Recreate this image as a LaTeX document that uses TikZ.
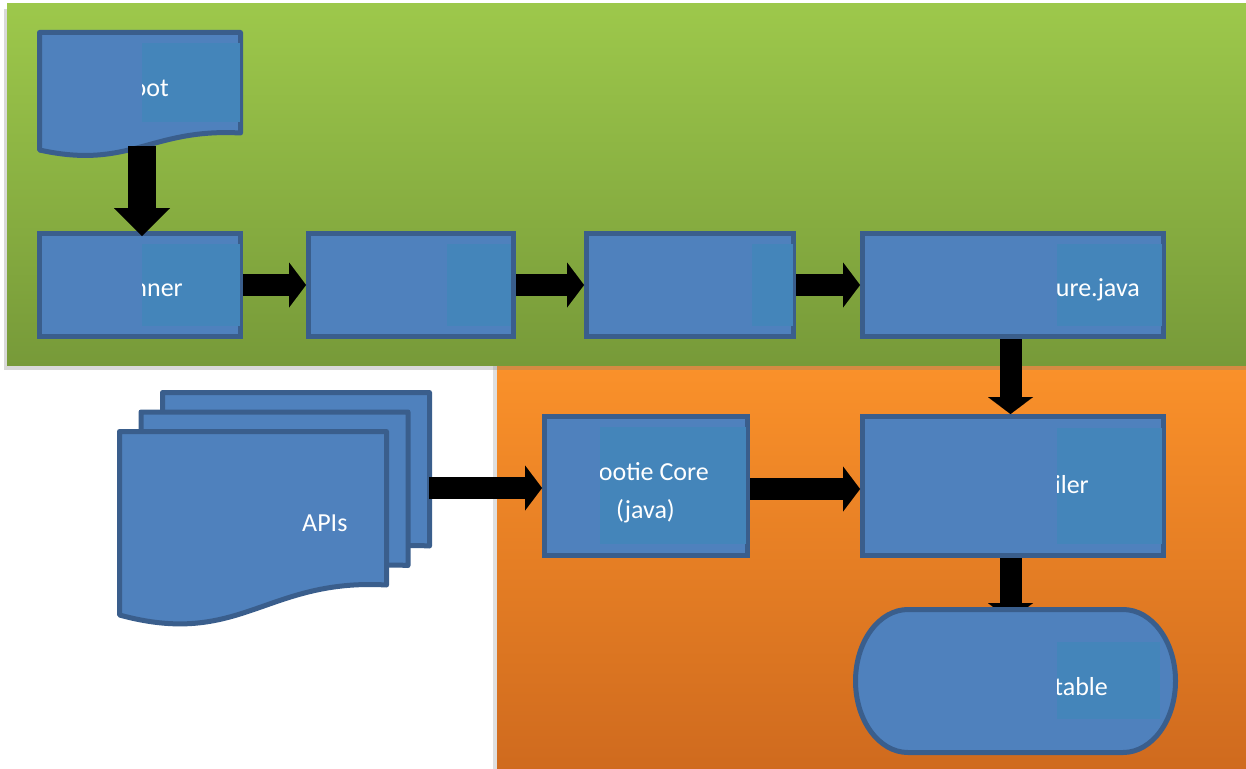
\documentclass[tikz,border=0pt]{standalone}
\usepackage{fontspec}
\setmainfont{Carlito}
\usetikzlibrary{arrows.meta,calc,shadows}
\definecolor{GreenTop}{HTML}{9DC84B}
\definecolor{GreenBot}{HTML}{779A39}
\definecolor{OrangeTop}{HTML}{FA912A}
\definecolor{OrangeBot}{HTML}{CF6A1E}
\definecolor{BoxFill}{HTML}{4F81BD}
\definecolor{BoxEdge}{HTML}{3A5E8C}
\definecolor{BoxInner}{HTML}{4485BA}
\tikzset{
  box/.style={draw=BoxEdge, fill=BoxFill, line width=5pt, inner sep=0pt},
  boxline/.style={draw=BoxEdge, fill=BoxFill, line width=5pt, line join=round},
  lbl/.style={text=white, font=\fontsize{26}{38}\selectfont, inner sep=0pt},
  blk/.style={line width=22pt, -{Triangle[length=17pt,width=45pt,line width=0.01pt]}},
  blkbig/.style={line width=28pt, -{Triangle[length=28pt,width=56pt,line width=0.01pt]}}
}

\begin{document}
\begin{tikzpicture}[x=1pt,y=-1pt]
  \useasboundingbox (0,0) rectangle (1246,768);
  % panels
  \fill[top color=OrangeTop, bottom color=OrangeBot,
        drop shadow={shadow xshift=-4pt, shadow yshift=0pt, opacity=0.25}]
    (497,366) rectangle (1250,772);
  \fill[top color=GreenTop, bottom color=GreenBot,
        drop shadow={shadow xshift=-3pt, shadow yshift=-5pt, opacity=0.3}]
    (7,4) rectangle (1250,365);

  % document shapes
  \draw[boxline] (39.5,32.5) -- (240.5,32.5) -- (240.5,133)
    .. controls (150,128) and (130,170) .. (39.5,150) -- cycle;
  \coordinate (boot-out) at (142,146);
  \foreach \s in {2,1,0}
    \draw[boxline, shift={(21.5*\s,-19.5*\s)}] (119.5,431.5) -- (386.5,431.5) -- (386.5,585)
      .. controls (266,578) and (240,648) .. (119.5,615) -- cycle;
  \coordinate (apis-out) at (429,488);
  \node[lbl, anchor=base west] (apis-lbl) at (302,531) {APIs};

  % boxes
  \node[box, minimum width=201pt, minimum height=103pt] (runner) at (140,285) {};
  \node[box, minimum width=205pt, minimum height=103pt] (stepA) at (411,285) {};
  \node[box, minimum width=207pt, minimum height=103pt] (stepB) at (690,285) {};
  \node[box, minimum width=301pt, minimum height=103pt] (configure) at (1013,285) {};
  \node[box, minimum width=203pt, minimum height=139pt] (core) at (646,486) {};
  \node[box, minimum width=301pt, minimum height=139pt] (compiler) at (1013,486) {};
  \node[minimum width=325pt, minimum height=148pt, outer sep=0pt] (store) at (1015.5,681) {};

  % inner panes with clipped labels
  \foreach \xa/\ya/\xb/\yb in {447/244/511/326, 752/244/793/326}
    \fill[BoxInner] (\xa,\ya) rectangle (\xb,\yb);
  \foreach \xa/\ya/\xb/\yb/\tx/\ty/\txt [count=\i] in {142/43/240/122/169/96/oot,
      142/244/240/326/183/296/nner, 1057/244/1162/326/1140/296/ure.java,
      1057/428/1162/544/1089/493/iler}{
    \begin{scope}
      \clip (\xa,\ya) rectangle (\xb,\yb);
      \fill[BoxInner] (\xa,\ya) rectangle (\xb,\yb);
      \node[lbl, anchor=base east] (lbl\i) at (\tx,\ty) {\txt};
    \end{scope}
  }
  \begin{scope}
    \clip (600,427) rectangle (746,544);
    \fill[BoxInner] (600,427) rectangle (746,544);
    \node[lbl, anchor=base east] (core-lbl) at (709,480) {ootie Core};
    \node[lbl, anchor=base west] (core-lbl2) at (616,518) {(java)};
  \end{scope}

  % arrows
  \draw[blkbig] (boot-out) -- ([yshift=-5pt]boot-out |- runner.north);
  \draw[blk] (runner.east) -- (stepA.west);
  \draw[blk] (stepA.east) -- (stepB.west);
  \draw[blk] (stepB.east) -- (configure.west);
  \draw[blk] (configure.south -| 1010.5,0) -- (compiler.north -| 1010.5,0);
  \draw[blk] (apis-out) -- (apis-out -| core.west);
  \draw[blk] ([yshift=-3pt]core.east) -- ([yshift=-3pt]compiler.west);
  \draw[blk] (compiler.south -| 1010.5,0) -- ([yshift=-13pt]store.north -| 1010.5,0);

  % terminator
  \draw[boxline] ([xshift=55pt,yshift=-2.5pt]store.north west)
    -- ([xshift=-55pt,yshift=-2.5pt]store.north east)
    arc[start angle=-90, end angle=90, x radius=52.5, y radius=71.5]
    -- ([xshift=55pt,yshift=2.5pt]store.south west)
    arc[start angle=90, end angle=270, x radius=52.5, y radius=71.5] -- cycle;
  \begin{scope}
    \clip (1057,642) rectangle (1160,719);
    \fill[BoxInner] (1057,642) rectangle (1160,719);
    \node[lbl, anchor=base east] (store-lbl) at (1108,695) {table};
  \end{scope}
\end{tikzpicture}
\end{document}
